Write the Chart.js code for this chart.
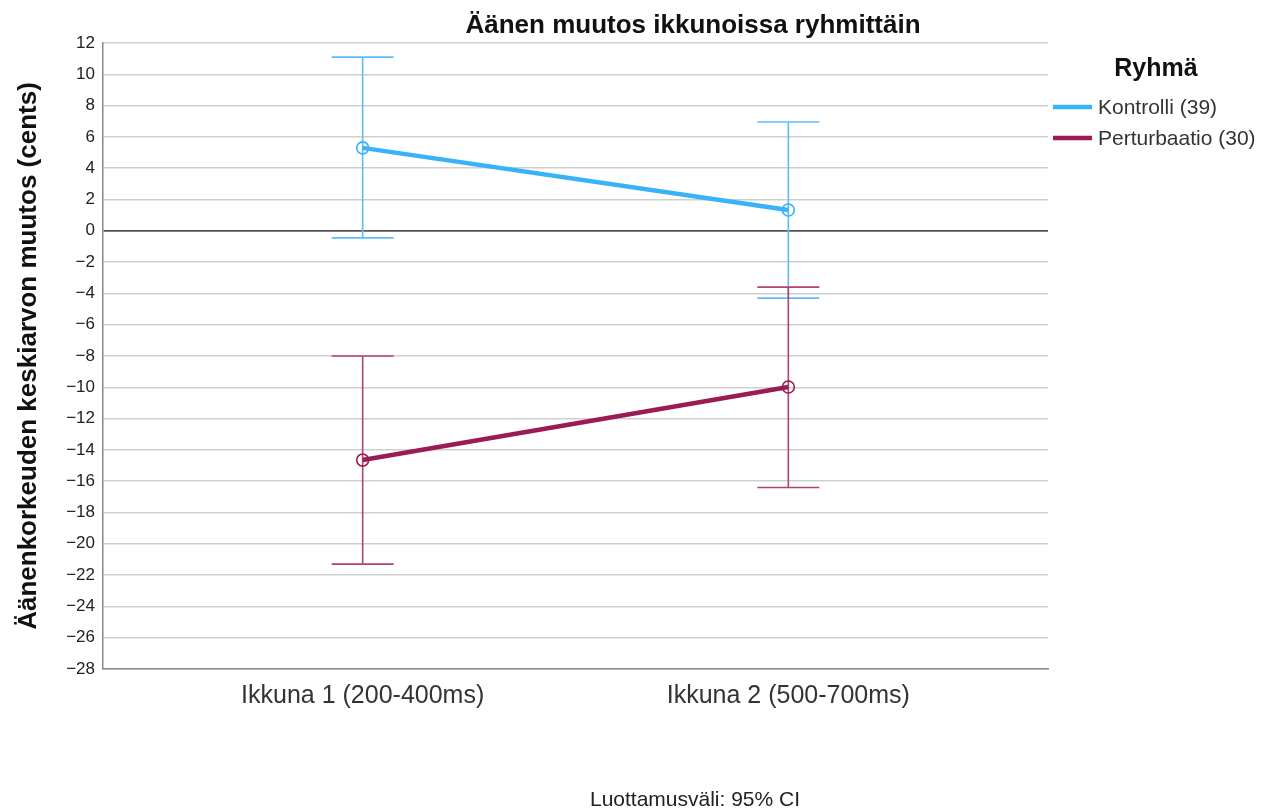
<!DOCTYPE html>
<html>
<head>
<meta charset="utf-8">
<script src="https://cdn.jsdelivr.net/npm/chart.js@4.4.1/dist/chart.umd.min.js"></script>
<style>
  html, body { margin: 0; padding: 0; background: #fff; }
  #wrap { position: relative; width: 1275px; height: 812px; }
</style>
</head>
<body>
<div id="wrap"><canvas id="chart" width="1275" height="812"></canvas></div>
<script>
// data
const categories = ['Ikkuna 1 (200-400ms)', 'Ikkuna 2 (500-700ms)'];
const groupLabels = ['Kontrolli (39)', 'Perturbaatio (30)'];

const kontrolliMean = [5.3, 1.33];
const kontrolliLow = [-0.45, -4.3];
const kontrolliHigh = [11.1, 6.95];

const perturbMean = [-14.65, -9.98];
const perturbLow = [-21.3, -16.4];
const perturbHigh = [-8.0, -3.6];

const yTicks = { min: -28, max: 12, step: 2 };

const FONT = '"Liberation Sans", Arial, sans-serif';
const blue = '#38b2f8';
const blueBar = '#5cbef5';
const wine = '#9b1b55';
const wineBar = '#b2426f';

function toPoints(arr) {
    return arr.map((v, i) => ({ x: i + 1, y: v }));
}

const errorBars = [
    { low: kontrolliLow, high: kontrolliHigh, color: blueBar },
    { low: perturbLow, high: perturbHigh, color: wineBar }
];

const errorBarPlugin = {
    id: 'errorBars',
    beforeDatasetsDraw(chart) {
        const ctx = chart.ctx;
        const xs = chart.scales.x;
        const ys = chart.scales.y;
        const cap = 31;
        ctx.save();
        ctx.lineWidth = 1.6;
        errorBars.forEach(eb => {
            ctx.strokeStyle = eb.color;
            eb.low.forEach((lo, i) => {
                const px = xs.getPixelForValue(i + 1);
                const pLo = ys.getPixelForValue(lo);
                const pHi = ys.getPixelForValue(eb.high[i]);
                ctx.beginPath();
                ctx.moveTo(px, pLo);
                ctx.lineTo(px, pHi);
                ctx.moveTo(px - cap, pLo);
                ctx.lineTo(px + cap, pLo);
                ctx.moveTo(px - cap, pHi);
                ctx.lineTo(px + cap, pHi);
                ctx.stroke();
            });
        });
        ctx.restore();
    }
};

const textPlugin = {
    id: 'extraText',
    afterDraw(chart) {
        const ctx = chart.ctx;
        ctx.save();
        ctx.fillStyle = '#111';
        ctx.textAlign = 'center';
        ctx.textBaseline = 'middle';
        ctx.font = 'bold 26px ' + FONT;
        ctx.fillText('Äänen muutos ikkunoissa ryhmittäin', 693, 26);

        // legend
        ctx.font = 'bold 25px ' + FONT;
        ctx.fillText('Ryhmä', 1156, 69);
        const colors = [blue, wine];
        groupLabels.forEach((lab, i) => {
            const y = 107 + i * 31;
            ctx.strokeStyle = colors[i];
            ctx.lineWidth = 4.5;
            ctx.beginPath();
            ctx.moveTo(1053, y);
            ctx.lineTo(1092, y);
            ctx.stroke();
            ctx.fillStyle = '#333';
            ctx.textAlign = 'left';
            ctx.font = '21px ' + FONT;
            ctx.fillText(lab, 1098, y + 1);
        });

        ctx.textAlign = 'center';
        ctx.fillStyle = '#222';
        ctx.font = '21px ' + FONT;
        ctx.fillText('Luottamusväli: 95% CI', 695, 800);
        ctx.restore();
    }
};

new Chart(document.getElementById('chart'), {
    type: 'line',
    data: {
        datasets: [{
            label: groupLabels[0],
            data: toPoints(kontrolliMean),
            borderColor: blue,
            borderWidth: 4.5,
            pointRadius: 6,
            pointBorderWidth: 1.6,
            pointBorderColor: blue,
            pointBackgroundColor: 'rgba(255,255,255,0)',
            tension: 0
        }, {
            label: groupLabels[1],
            data: toPoints(perturbMean),
            borderColor: wine,
            borderWidth: 4.5,
            pointRadius: 6,
            pointBorderWidth: 1.6,
            pointBorderColor: wine,
            pointBackgroundColor: 'rgba(255,255,255,0)',
            tension: 0
        }]
    },
    options: {
        responsive: false,
        animation: false,
        layout: {
            padding: { top: 43, right: 227, left: 0, bottom: 0 }
        },
        plugins: {
            legend: { display: false },
            tooltip: { enabled: false }
        },
        scales: {
            x: {
                type: 'linear',
                min: 0.39,
                max: 2.61,
                afterBuildTicks(scale) {
                    scale.ticks = categories.map((c, i) => ({ value: i + 1 }));
                },
                afterFit(scale) {
                    scale.height = 143;
                },
                ticks: {
                    autoSkip: false,
                    maxRotation: 0,
                    padding: 4,
                    color: '#333',
                    font: { family: FONT, size: 25 },
                    callback: (v) => categories[v - 1] || ''
                },
                grid: { display: false },
                border: { display: true, color: '#8a8a8a', width: 1.5 }
            },
            y: {
                min: yTicks.min,
                max: yTicks.max,
                afterFit(scale) {
                    scale.width = 103;
                },
                ticks: {
                    stepSize: yTicks.step,
                    padding: 8,
                    color: '#222',
                    font: { family: FONT, size: 17 },
                    callback: (v) => (v < 0 ? '\u2212' + Math.abs(v) : String(v))
                },
                grid: {
                    color: (c) => (c.tick && c.tick.value === 0 ? '#555' : '#cfcfcf'),
                    lineWidth: (c) => (c.tick && c.tick.value === 0 ? 1.8 : 1.6),
                    drawTicks: false
                },
                border: { display: true, color: '#8a8a8a', width: 1.5 },
                title: {
                    display: true,
                    text: 'Äänenkorkeuden keskiarvon muutos (cents)',
                    color: '#111',
                    padding: { top: 13, bottom: 0 },
                    font: { family: FONT, size: 26, weight: 'bold' }
                }
            }
        }
    },
    plugins: [errorBarPlugin, textPlugin]
});
</script>
</body>
</html>
